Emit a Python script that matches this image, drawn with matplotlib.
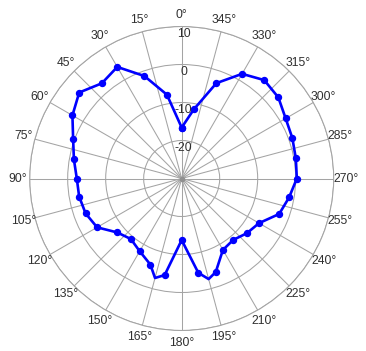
import numpy as np
import matplotlib
matplotlib.use('Agg')
import matplotlib.pyplot as plt
import matplotlib.transforms as mtransforms

plt.rcParams['font.family'] = ['Liberation Sans', 'DejaVu Sans']

# angles (degrees) and levels (dB)
angles = [0, 10, 20, 30, 40, 50, 60, 70, 80, 90, 100, 110, 120, 130, 140, 150,
          160, 165, 170, 180, 190, 195, 200, 210, 220, 230, 240, 250, 260, 270,
          280, 290, 300, 310, 320, 330, 340, 350]
levels = [-16.6, -7.6, -1.3, 3.9, 2.7, 5.2, 3.2, 0.4, -1.2, -2.4, -2.6, -3.1,
          -4.3, -7.9, -9.2, -7.9, -5.9, -2.9, -4.2, -13.8, -4.8, -2.6, -3.8,
          -8.3, -8.9, -7.6, -6.5, -2.7, -1.3, 0.3, 0.5, 1.0, 1.6, 3.2, 3.8,
          1.8, -3.3, -11.5]
unmarked = [165, 195]

theta_ticks = list(range(0, 360, 15))
r_ticks = [-20, -10, 0, 10]
r_min, r_max = -30, 10

grid_col = '#a4a4a4'
txt_col = '#303030'

fig = plt.figure(figsize=(3.66, 3.51), dpi=100)
ax = fig.add_axes([0.0811, 0.0584, 0.8306, 0.8661], projection='polar')
ax.set_theta_zero_location('N')
ax.set_theta_direction(1)
ax.set_ylim(r_min, r_max)

ax.set_xticks(np.deg2rad(theta_ticks))
ax.set_xticklabels([])
ax.set_yticks(r_ticks)
ax.set_yticklabels([])
ax.grid(True, color=grid_col, linewidth=0.75)
ax.spines['polar'].set_color(grid_col)
ax.spines['polar'].set_linewidth(0.75)
ax.tick_params(length=0)

# closed curve
th = np.deg2rad(angles + [angles[0]])
rr = levels + [levels[0]]
marks = [i for i, a in enumerate(angles) if a not in unmarked] + [len(angles)]
ax.plot(th, rr, color='#0000ff', linewidth=1.9, marker='o', markersize=4.3,
        markevery=marks, zorder=5)
ax.plot([0], [r_min], marker='o', color='#909090', markersize=3, zorder=4)

# angle labels
lab_r = r_max + 12 / 3.8
for a in theta_ticks:
    ax.text(np.deg2rad(a), lab_r, f'{a}°', ha='center', va='center',
            fontsize=8.7, color=txt_col, clip_on=False)

# radial labels just inside each circle
shift = mtransforms.offset_copy(ax.transData, fig=fig, x=2, y=0, units='dots')
for v in r_ticks:
    ax.text(0, v - 2.0, str(v), ha='center', va='center', fontsize=8.7,
            color=txt_col, transform=shift, zorder=6)

fig.savefig('out.png', dpi=100)
